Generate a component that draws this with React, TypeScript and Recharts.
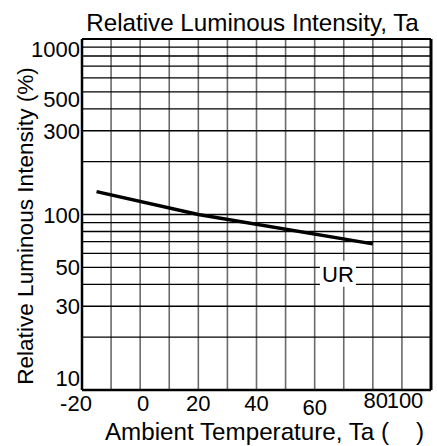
import {
  Line,
  LineChart,
  ReferenceDot,
  ReferenceLine,
  XAxis,
  YAxis,
} from 'recharts'

// ticks and grid
const tempTicks = [-20, 0, 20, 40, 60, 80, 100]
const intensityTicks = [10, 30, 50, 100, 300, 500, 1000]
const tempGrid = [-10, 0, 10, 20, 30, 40, 50, 60, 70, 80, 90]
const intensityGrid = [
  20, 30, 40, 50, 60, 70, 80, 90, 100, 200, 300, 400, 500, 600, 700, 800, 900,
]

// UR curve
const ambientTemp = [-15, 20, 80]
const urIntensity = [135, 100, 68]

const chartData = ambientTemp.map((t, i) => ({ temp: t, ur: urIntensity[i] }))

const FONT = '"Liberation Sans", Arial, sans-serif'

// label nudges to mimic the datasheet layout
const xNudge: Record<number, [number, number]> = {
  [-20]: [-6, 0],
  0: [3, 0],
  60: [0, 4],
  80: [3, -3],
  100: [-20, -3],
}
const yNudge: Record<number, number> = { 1000: 10, 500: 7, 10: -12 }

const XTick = ({ x, y, payload }: any) => {
  const [dx, dy] = xNudge[payload.value] ?? [0, 0]
  return (
    <text
      x={x + dx}
      y={y + 19 + dy}
      textAnchor="middle"
      fontSize={22}
      fontFamily={FONT}
      fill="#000"
    >
      {payload.value}
    </text>
  )
}

const YTick = ({ x, y, payload }: any) => (
  <text
    x={x}
    y={y + 8 + (yNudge[payload.value] ?? 0)}
    textAnchor="end"
    fontSize={22}
    fontFamily={FONT}
    fill="#000"
  >
    {payload.value}
  </text>
)

const XTitle = ({ viewBox }: any) => (
  <text
    x={viewBox.x + viewBox.width / 2 + 8}
    y={viewBox.y + 50}
    textAnchor="middle"
    fontSize={24.2}
    fontFamily={FONT}
    fill="#000"
  >
    {'Ambient Temperature, Ta (\u00A0\u00A0\u00A0\u00A0)'}
  </text>
)

const YTitle = () => (
  <text
    transform="translate(33,226) rotate(-90)"
    textAnchor="middle"
    fontSize={22.6}
    fontFamily={FONT}
    fill="#000"
  >
    Relative Luminous Intensity (%)
  </text>
)

const ChartTitle = ({ viewBox }: any) => (
  <text
    x={viewBox.x + viewBox.width / 2 - 4}
    y={viewBox.y - 8}
    textAnchor="middle"
    fontSize={24.2}
    fontFamily={FONT}
    fill="#000"
  >
    Relative Luminous Intensity, Ta
  </text>
)

const SeriesTag = ({ viewBox }: any) => {
  const cx = viewBox.x + viewBox.width / 2
  const cy = viewBox.y + viewBox.height / 2
  return (
    <g>
      <rect x={cx - 18} y={cy - 13} width={36} height={26} fill="#fff" />
      <text
        x={cx}
        y={cy + 8}
        textAnchor="middle"
        fontSize={22}
        fontFamily={FONT}
        fill="#000"
      >
        UR
      </text>
    </g>
  )
}

export default function App() {
  return (
    <div style={{ position: 'absolute', left: 0, top: 0, background: '#fff' }}>
      <LineChart
        width={437}
        height={446}
        data={chartData}
        margin={{ top: 39, right: 6, bottom: 0, left: 0 }}
      >
        <XAxis
          type="number"
          dataKey="temp"
          domain={[-20, 100]}
          ticks={tempTicks}
          height={56}
          tickLine={false}
          tickSize={0}
          tickMargin={2}
          axisLine={{ stroke: '#000', strokeWidth: 2.5 }}
          tick={<XTick />}
          label={<XTitle />}
        />
        <YAxis
          type="number"
          scale="log"
          domain={[10, 1000]}
          ticks={intensityTicks}
          width={82}
          tickLine={false}
          tickSize={0}
          tickMargin={2}
          axisLine={{ stroke: '#000', strokeWidth: 2.5 }}
          tick={<YTick />}
          label={<YTitle />}
        />
        {tempGrid.map((t) => (
          <ReferenceLine key={`vx${t}`} x={t} stroke="#6b6b6b" strokeWidth={1.6} />
        ))}
        {intensityGrid.map((v) => (
          <ReferenceLine key={`hy${v}`} y={v} stroke="#000" strokeWidth={1.3} />
        ))}
        <ReferenceLine
          y={1000}
          stroke="#000"
          strokeWidth={2}
          label={<ChartTitle />}
        />
        <ReferenceLine x={100} stroke="#000" strokeWidth={3} />
        <Line
          type="linear"
          dataKey="ur"
          stroke="#000"
          strokeWidth={3.5}
          dot={false}
          isAnimationActive={false}
        />
        <ReferenceDot
          x={68}
          y={46}
          r={0}
          fill="none"
          stroke="none"
          label={<SeriesTag />}
        />
      </LineChart>
    </div>
  )
}
